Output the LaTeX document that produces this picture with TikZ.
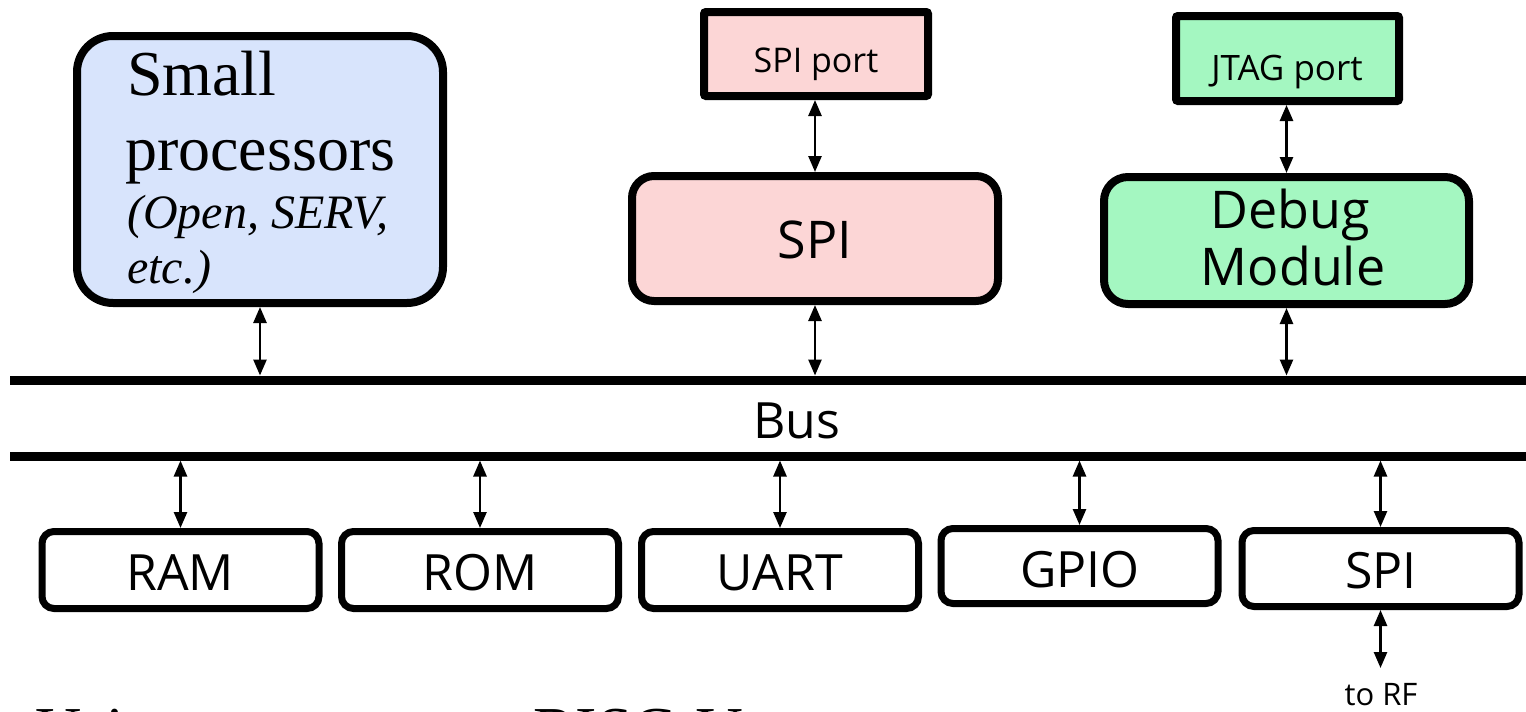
\documentclass[tikz,border=0pt]{standalone}
\usepackage{fontspec}
\setmainfont{Liberation Serif}
\newfontfamily\osans{Open Sans}
\usetikzlibrary{arrows.meta}

\definecolor{procblue}{RGB}{216,228,252}
\definecolor{spipink}{RGB}{252,214,214}
\definecolor{dbggreen}{RGB}{164,247,193}

\tikzset{
  blk/.style={draw=black, line width=8pt, rounded corners=#1, inner sep=0pt},
  blk/.default=12pt,
  periph/.style={draw=black, line width=7pt, rounded corners=12pt, inner sep=0pt,
                 minimum width=277pt, minimum height=77pt},
  link/.style={line width=2.6pt,
               {Triangle[length=16pt,width=13pt]}-{Triangle[length=16pt,width=13pt]}},
  busline/.style={line width=9pt},
  lbl/.style={anchor=base, inner sep=0pt, font=\osans\fontsize{50}{60}\selectfont},
  serifbig/.style={anchor=base west, inner sep=0pt, font=\fontsize{64}{75}\selectfont},
  serifit/.style={anchor=base west, inner sep=0pt, font=\fontsize{48}{55}\selectfont\itshape},
}

\begin{document}
\begin{tikzpicture}[x=1pt, y=-1pt]
  \useasboundingbox (0,0) rectangle (1526,712);

  % processor block
  \node[blk=36pt, fill=procblue, minimum width=366pt, minimum height=267pt] (proc) at (260,169.5) {};
  \node[serifbig] (procA) at (127,95) {Small};
  \node[serifbig] (procB) at (125,170) {processors};
  \node[serifit] (procC) at (127,228) {(Open, SERV,};
  \node[serifit] (procD) at (127,283) {etc.)};

  % SPI master with its port
  \node[blk=2pt, fill=spipink, minimum width=224pt, minimum height=84pt] (spiport) at (816,54) {};
  \node[lbl, font=\osans\fontsize{34}{40}\selectfont] (spiportT) at (816,72) {SPI port};
  \node[blk=22pt, fill=spipink, minimum width=366pt, minimum height=125pt] (spi) at (815,238.5) {};
  \node[lbl, font=\osans\fontsize{52}{60}\selectfont] (spiT) at (815,258) {SPI};

  % debug module with its JTAG port
  \node[blk=2pt, fill=dbggreen, minimum width=223pt, minimum height=85pt] (jtag) at (1287.5,58.5) {};
  \node[lbl, font=\osans\fontsize{35}{40}\selectfont] (jtagT) at (1287,80) {JTAG port};
  \node[blk=24pt, fill=dbggreen, minimum width=365pt, minimum height=127pt] (dbg) at (1286.5,240.5) {};
  \node[lbl, font=\osans\fontsize{52}{57}\selectfont] (dbgA) at (1290,228) {Debug};
  \node[lbl, font=\osans\fontsize{52}{57}\selectfont] (dbgB) at (1293,285) {Module};

  % the bus
  \coordinate (busTL) at (10,380);
  \coordinate (busTR) at (1526,380);
  \coordinate (busBL) at (10,456);
  \coordinate (busBR) at (1526,456);
  \coordinate (busTopEdge) at (0,375.5);
  \coordinate (busBotEdge) at (0,460.5);
  \draw[busline] (busTL) -- (busTR);
  \draw[busline] (busBL) -- (busBR);
  \node[lbl] (busT) at (797,438) {Bus};

  % peripherals
  \node[periph] (ram)  at (180.5,570) {};
  \node[periph] (rom)  at (480,570) {};
  \node[periph] (uart) at (780,570) {};
  \node[periph, minimum height=75pt] (gpio) at (1079.5,566) {};
  \node[periph, minimum height=76pt] (spib) at (1380.5,568.5) {};
  \node[lbl] (ramT)  at (180,590) {RAM};
  \node[lbl] (romT)  at (480,590) {ROM};
  \node[lbl] (uartT) at (780,590) {UART};
  \node[lbl] (gpioT) at (1080,587) {GPIO};
  \node[lbl] (spibT) at (1381,588) {SPI};

  \coordinate (rf) at (1381,668);
  \node[lbl, font=\osans\fontsize{31}{36}\selectfont] (rfT) at (1381,705) {to RF};

  % connections
  \draw[link] (spi.north) -- (spi.north |- spiport.south);
  \draw[link] (dbg.north) -- (dbg.north |- jtag.south);
  \draw[link] (proc.south) -- (proc.south |- busTopEdge);
  \draw[link] (spi.south) -- (spi.south |- busTopEdge);
  \draw[link] (dbg.south) -- (dbg.south |- busTopEdge);
  \foreach \p in {ram,rom,uart,gpio,spib}
    \draw[link] (\p.north) -- (\p.north |- busBotEdge);
  \draw[link] (spib.south) -- (spib.south |- rf);

  % caption, cut by the lower edge
  \node[anchor=base west, inner sep=0pt, font=\fontsize{64}{75}\selectfont] (capA) at (35,751) {Using};
  \node[anchor=base west, inner sep=0pt, font=\fontsize{64}{75}\selectfont] (capB) at (533,751) {RISC-V};
\end{tikzpicture}
\end{document}
